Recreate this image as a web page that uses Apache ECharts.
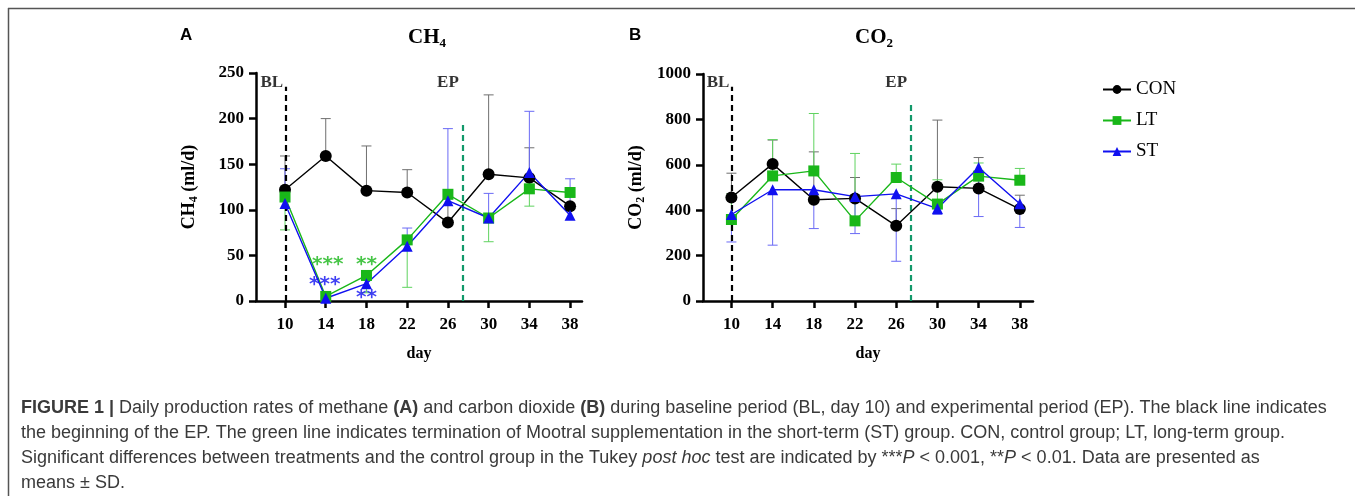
<!DOCTYPE html>
<html>
<head>
<meta charset="utf-8">
<script src="https://cdn.jsdelivr.net/npm/echarts@6/dist/echarts.min.js"></script>
<style>
html, body { margin: 0; background: #fff; }
#main { width: 1355px; height: 496px; }
</style>
</head>
<body>
<div id="main"></div>
<script>
var days = [10, 14, 18, 22, 26, 30, 34, 38];
var dayTicks = [10, 14, 18, 22, 26, 30, 34, 38];

// CH4, ml/d (mean, and the visible end of each SD bar)
var ch4Con = [122, 159, 121, 119, 86, 139, 135, 104];
var ch4ConHi = [159, 200, 170, 144, 112, 226, 168, null];
var ch4Lt = [114, 5, 28, 67, 117, 91, 123, 119];
var ch4LtLo = [78, null, 9, 15, null, 65, 104, null];
var ch4St = [107, 3, 19, 60, 110, 91, 141, 94];
var ch4StHi = [145, null, null, 80, 189, 118, 208, 134];

// CO2, ml/d
var co2Con = [456, 604, 446, 452, 331, 503, 496, 405];
var co2ConHi = [563, 709, 657, 544, 407, 797, 632, 466];
var co2Lt = [359, 551, 573, 353, 544, 427, 550, 532];
var co2LtHi = [472, 711, 826, 650, 603, 534, 608, 584];
var co2St = [381, 490, 490, 460, 472, 407, 588, 428];
var co2StLo = [260, 246, 319, 297, 175, 381, 372, 324];

// significance stars on CH4 panel
var sigDays = [14.2, 13.9, 18, 18];
var sigVals = [40, 18, 40, 4];
var sigText = ['***', '***', '**', '**'];
var sigGroup = ['LT', 'ST', 'LT', 'ST'];

// period markers: BL line at day 10, end of ST supplementation
var blDay = 10.05;
var stopDay = [27.45, 27.4];
var blTop = [235, 944];
var stopTop = [197, 871];
var periodLabelDay = [8.7, 26];
var periodLabelVal = [240, 963];

var colCon = '#000000', colLt = '#19b719', colSt = '#1010f0';
var errCon = '#6f6f6f', errLt = '#5fd35f', errSt = '#6a6af5';
var serif = 'Liberation Serif';

var chartDom = document.getElementById('main');
var myChart = echarts.init(chartDom);

function lineSeries(name, vals, color, symbol, size, idx) {
    return {
        name: name,
        type: 'line',
        xAxisIndex: idx,
        yAxisIndex: idx,
        data: days.map(function (d, i) { return [d, vals[i]]; }),
        symbol: symbol,
        symbolSize: size,
        itemStyle: { color: color },
        lineStyle: { color: color, width: 1.4 },
        z: 5,
        animation: false
    };
}

function errSeries(means, lo, hi, color, idx) {
    return {
        type: 'custom',
        xAxisIndex: idx,
        yAxisIndex: idx,
        silent: true,
        z: 3,
        data: days.map(function (d, i) {
            return [d, means[i], lo ? lo[i] : null, hi ? hi[i] : null];
        }),
        renderItem: function (params, api) {
            var x = api.value(0), m = api.value(1);
            var kids = [];
            [api.value(2), api.value(3)].forEach(function (e) {
                if (e === null || e === undefined || isNaN(e)) return;
                var p0 = api.coord([x, m]), p1 = api.coord([x, e]);
                kids.push({ type: 'line', shape: { x1: p0[0], y1: p0[1], x2: p1[0], y2: p1[1] },
                    style: { stroke: color, lineWidth: 1 } });
                kids.push({ type: 'line', shape: { x1: p1[0] - 5, y1: p1[1], x2: p1[0] + 5, y2: p1[1] },
                    style: { stroke: color, lineWidth: 1 } });
            });
            return { type: 'group', children: kids };
        },
        animation: false
    };
}

function markerSeries(idx) {
    var lbl = [{ value: [periodLabelDay[0], periodLabelVal[idx]], t: 'BL' },
               { value: [periodLabelDay[1], periodLabelVal[idx]], t: 'EP' }];
    return {
        type: 'scatter',
        xAxisIndex: idx,
        yAxisIndex: idx,
        symbolSize: 0,
        silent: true,
        data: lbl,
        label: {
            show: true, position: 'inside',
            formatter: function (p) { return p.data.t; },
            fontFamily: serif, fontWeight: 'bold', fontSize: 17, color: '#000'
        },
        markLine: {
            silent: true, symbol: 'none', label: { show: false }, animation: false,
            data: [
                [{ coord: [blDay, 0], lineStyle: { color: '#000', width: 2.2, type: [6, 4] } },
                 { coord: [blDay, blTop[idx]] }],
                [{ coord: [stopDay[idx], 0], lineStyle: { color: '#12996a', width: 2.2, type: [6, 4] } },
                 { coord: [stopDay[idx], stopTop[idx]] }]
            ]
        },
        animation: false
    };
}

var sigSeries = {
    type: 'scatter',
    xAxisIndex: 0,
    yAxisIndex: 0,
    symbolSize: 0,
    silent: true,
    z: 6,
    data: sigDays.map(function (d, i) {
        return { value: [d, sigVals[i]], t: sigText[i],
            label: { color: sigGroup[i] === 'LT' ? colLt : colSt } };
    }),
    label: {
        show: true, position: 'inside',
        formatter: function (p) { return p.data.t; },
        fontFamily: 'DejaVu Sans', fontWeight: 'bold', fontSize: 20
    },
    animation: false
};

function xAxisFor(idx, min, max) {
    return {
        type: 'value', gridIndex: idx, min: min, max: max,
        name: 'day', nameLocation: 'middle', nameGap: 45,
        nameTextStyle: { fontFamily: serif, fontWeight: 'bold', fontSize: 16, color: '#000' },
        axisLine: { lineStyle: { color: '#000', width: 2.5 } },
        axisTick: { length: 7, customValues: dayTicks, lineStyle: { width: 2.5, color: '#000' } },
        axisLabel: { customValues: dayTicks, margin: 15, fontFamily: serif, fontWeight: 'bold', fontSize: 17, color: '#000' },
        splitLine: { show: false }
    };
}

function yAxisFor(idx, max, interval, gas) {
    return {
        type: 'value', gridIndex: idx, min: 0, max: max, interval: interval,
        name: '{a|' + gas[0] + '}{s|' + gas[1] + '}{a| (ml/d)}',
        nameLocation: 'middle', nameRotate: 90, nameGap: 56,
        nameTextStyle: {
            rich: {
                a: { fontFamily: serif, fontWeight: 'bold', fontSize: 18, color: '#000', lineHeight: 22 },
                s: { fontFamily: serif, fontWeight: 'bold', fontSize: 12, color: '#000', lineHeight: 22, verticalAlign: 'bottom', padding: [8, 0, 0, 0] }
            }
        },
        axisLine: { show: true, lineStyle: { color: '#000', width: 2.5 } },
        axisTick: { show: true, length: 7, lineStyle: { width: 2.5, color: '#000' } },
        axisLabel: {
            margin: 12, fontFamily: serif, fontWeight: 'bold', fontSize: 17, color: '#000',
            formatter: function (v) { return String(v); }
        },
        splitLine: { show: false }
    };
}

function titleText(left, gas) {
    return {
        type: 'text', left: left, top: 27,
        style: {
            text: '{a|' + gas[0] + '}{s|' + gas[1] + '}',
            rich: {
                a: { fontFamily: serif, fontWeight: 'bold', fontSize: 21, fill: '#000', lineHeight: 26 },
                s: { fontFamily: serif, fontWeight: 'bold', fontSize: 13, fill: '#000', lineHeight: 26, verticalAlign: 'bottom', padding: [9, 0, 0, 0] }
            }
        }
    };
}

var capStyle = { fontFamily: 'Liberation Sans', fontSize: 18, fill: '#3a3a3a' };
var capRich = {
    b: { fontFamily: 'Liberation Sans', fontWeight: 'bold', fontSize: 18, fill: '#3a3a3a' },
    i: { fontFamily: 'Liberation Sans', fontStyle: 'italic', fontSize: 18, fill: '#3a3a3a' }
};
var caption = [
    '{b|FIGURE 1 |} Daily production rates of methane {b|(A)} and carbon dioxide {b|(B)} during baseline period (BL, day 10) and experimental period (EP). The black line indicates',
    'the beginning of the EP. The green line indicates termination of Mootral supplementation in the short-term (ST) group. CON, control group; LT, long-term group.',
    'Significant differences between treatments and the control group in the Tukey {i|post hoc} test are indicated by ***{i|P} < 0.001, **{i|P} < 0.01. Data are presented as',
    'means \u00b1 SD.'
];

var graphics = [
    { type: 'line', shape: { x1: 8, y1: 8.5, x2: 1355, y2: 8.5 }, style: { stroke: '#555', lineWidth: 1.5 } },
    { type: 'line', shape: { x1: 8.5, y1: 8, x2: 8.5, y2: 496 }, style: { stroke: '#555', lineWidth: 1.5 } },
    { type: 'text', left: 180, top: 27, style: { text: 'A', fontFamily: 'Liberation Sans', fontWeight: 'bold', fontSize: 17, fill: '#000' } },
    { type: 'text', left: 629, top: 27, style: { text: 'B', fontFamily: 'Liberation Sans', fontWeight: 'bold', fontSize: 17, fill: '#000' } },
    titleText(408, ['CH', '4']),
    titleText(855, ['CO', '2'])
];
caption.forEach(function (line, i) {
    graphics.push({
        type: 'text', left: 21, top: 399 + i * 25,
        style: Object.assign({ text: line, rich: capRich }, capStyle)
    });
});

var option = {
    backgroundColor: '#fff',
    animation: false,
    grid: [
        { left: 256, top: 73, width: 326, height: 228 },
        { left: 703, top: 74, width: 330, height: 227 }
    ],
    xAxis: [xAxisFor(0, 7.15, 39.17), xAxisFor(1, 7.24, 39.28)],
    yAxis: [yAxisFor(0, 250, 50, ['CH', '4']), yAxisFor(1, 1000, 200, ['CO', '2'])],
    legend: {
        data: ['CON', 'LT', 'ST'],
        orient: 'vertical', left: 1097, top: 74,
        itemWidth: 28, itemHeight: 11, itemGap: 10,
        textStyle: { fontFamily: serif, fontSize: 19, color: '#000', lineHeight: 21 }
    },
    graphic: graphics,
    series: [
        markerSeries(0),
        markerSeries(1),
        errSeries(ch4Con, null, ch4ConHi, errCon, 0),
        errSeries(ch4Lt, ch4LtLo, null, errLt, 0),
        errSeries(ch4St, null, ch4StHi, errSt, 0),
        errSeries(co2Con, null, co2ConHi, errCon, 1),
        errSeries(co2Lt, null, co2LtHi, errLt, 1),
        errSeries(co2St, co2StLo, null, errSt, 1),
        lineSeries('CON', ch4Con, colCon, 'circle', 12, 0),
        lineSeries('LT', ch4Lt, colLt, 'rect', 11, 0),
        lineSeries('ST', ch4St, colSt, 'triangle', 11, 0),
        lineSeries('CON', co2Con, colCon, 'circle', 12, 1),
        lineSeries('LT', co2Lt, colLt, 'rect', 11, 1),
        lineSeries('ST', co2St, colSt, 'triangle', 11, 1),
        sigSeries
    ]
};

option && myChart.setOption(option);
</script>
</body>
</html>
